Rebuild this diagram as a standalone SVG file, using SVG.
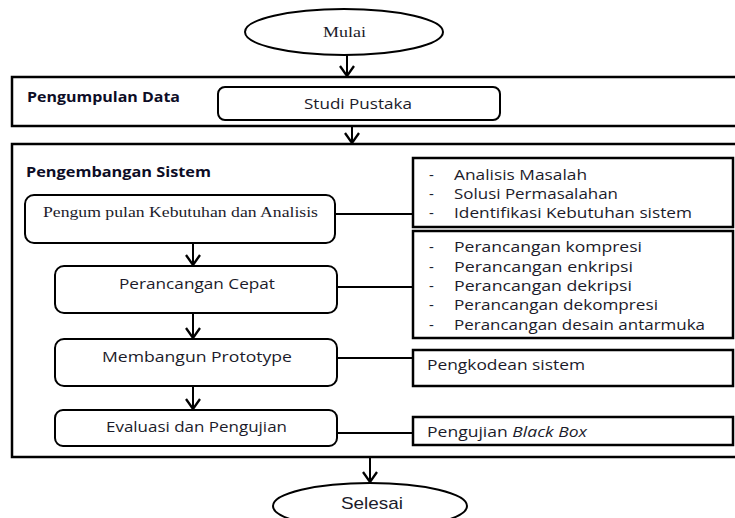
<svg xmlns="http://www.w3.org/2000/svg" width="735" height="518" viewBox="0 0 735 518">
<style>
.frame{fill:none;stroke:#000;stroke-width:2.5}
.box{fill:#fff;stroke:#000;stroke-width:2}
.rbox{fill:#fff;stroke:#000;stroke-width:2.5}
.conn{fill:none;stroke:#000;stroke-width:2}
.head{fill:none;stroke:#000;stroke-width:2.3}
.t{font-family:"Open Sans","Liberation Sans",sans-serif;font-size:15px;fill:#1b1b2a}
.b{font-family:"Open Sans","Liberation Sans",sans-serif;font-size:14px;font-weight:bold;fill:#0d0d26}
.s{font-family:"Liberation Serif",serif;font-size:15px;fill:#1b1b2a}
.a{font-family:"Liberation Sans",sans-serif;font-size:17px;fill:#1b1b2a}
</style>

<g id="mulai">
<ellipse cx="344" cy="32" rx="99" ry="23" class="box"/>
<text x="344.5" y="37" class="s" text-anchor="middle" textLength="43" lengthAdjust="spacingAndGlyphs">Mulai</text>
</g>

<g id="pengumpulan-data">
<rect x="12" y="77" width="740" height="49" class="frame"/>
<text x="27" y="102" class="b" textLength="153" lengthAdjust="spacingAndGlyphs">Pengumpulan Data</text>
</g>

<g id="studi-pustaka">
<rect x="218" y="87" width="282" height="33" rx="7" class="box"/>
<text x="304" y="109" class="t" textLength="108" lengthAdjust="spacingAndGlyphs">Studi Pustaka</text>
</g>

<g id="pengembangan-sistem">
<rect x="12" y="144" width="740" height="313" class="frame"/>
<text x="26" y="177" class="b" textLength="185" lengthAdjust="spacingAndGlyphs">Pengembangan Sistem</text>
</g>

<g id="kebutuhan">
<rect x="25" y="195" width="310" height="48" rx="9" class="box"/>
<text x="43" y="217" class="s" textLength="275" lengthAdjust="spacingAndGlyphs">Pengum pulan Kebutuhan dan Analisis</text>
</g>

<g id="perancangan-cepat">
<rect x="55" y="266" width="282" height="47" rx="9" class="box"/>
<text x="119" y="289" class="t" textLength="156" lengthAdjust="spacingAndGlyphs">Perancangan Cepat</text>
</g>

<g id="prototype">
<rect x="55" y="339" width="282" height="47" rx="9" class="box"/>
<text x="102" y="362" class="t" textLength="190" lengthAdjust="spacingAndGlyphs">Membangun Prototype</text>
</g>

<g id="evaluasi">
<rect x="55" y="410" width="282" height="36" rx="8" class="box"/>
<text x="106" y="432" class="t" textLength="181" lengthAdjust="spacingAndGlyphs">Evaluasi dan Pengujian</text>
</g>

<g id="analisis-list">
<rect x="413" y="158" width="320" height="69" class="rbox"/>
<g class="t">
<text x="429" y="180">-</text><text x="454" y="180" textLength="133" lengthAdjust="spacingAndGlyphs">Analisis Masalah</text>
<text x="429" y="199">-</text><text x="454" y="199" textLength="164" lengthAdjust="spacingAndGlyphs">Solusi Permasalahan</text>
<text x="429" y="218">-</text><text x="454" y="218" textLength="238" lengthAdjust="spacingAndGlyphs">Identifikasi Kebutuhan sistem</text>
</g>
</g>

<g id="perancangan-list">
<rect x="413" y="231" width="320" height="107" class="rbox"/>
<g class="t">
<text x="429" y="252">-</text><text x="454" y="252" textLength="188" lengthAdjust="spacingAndGlyphs">Perancangan kompresi</text>
<text x="429" y="272">-</text><text x="454" y="272" textLength="179" lengthAdjust="spacingAndGlyphs">Perancangan enkripsi</text>
<text x="429" y="291">-</text><text x="454" y="291" textLength="178" lengthAdjust="spacingAndGlyphs">Perancangan dekripsi</text>
<text x="429" y="310">-</text><text x="454" y="310" textLength="204" lengthAdjust="spacingAndGlyphs">Perancangan dekompresi</text>
<text x="429" y="330">-</text><text x="454" y="330" textLength="251" lengthAdjust="spacingAndGlyphs">Perancangan desain antarmuka</text>
</g>
</g>

<g id="pengkodean">
<rect x="413" y="350" width="320" height="36" class="rbox"/>
<text x="427" y="370" class="t" textLength="158" lengthAdjust="spacingAndGlyphs">Pengkodean sistem</text>
</g>

<g id="blackbox">
<rect x="413" y="417" width="320" height="28" class="rbox"/>
<text x="427" y="437" class="t" textLength="160" lengthAdjust="spacingAndGlyphs">Pengujian <tspan font-style="italic">Black Box</tspan></text>
</g>

<g id="selesai">
<ellipse cx="370" cy="506" rx="97" ry="23" class="box"/>
<text x="341" y="509" class="a" textLength="62" lengthAdjust="spacingAndGlyphs">Selesai</text>
</g>

<g id="connectors">
<line x1="347" y1="55" x2="347" y2="76" class="conn"/>
<path d="M340,66 L347,76 L354,66" class="head"/>
<line x1="352" y1="126" x2="352" y2="143" class="conn"/>
<path d="M345,133 L352,143 L359,133" class="head"/>
<line x1="193" y1="243" x2="193" y2="265" class="conn"/>
<path d="M186,255 L193,265 L200,255" class="head"/>
<line x1="193" y1="313" x2="193" y2="338" class="conn"/>
<path d="M186,328 L193,338 L200,328" class="head"/>
<line x1="193" y1="386" x2="193" y2="409" class="conn"/>
<path d="M186,399 L193,409 L200,399" class="head"/>
<line x1="370" y1="457" x2="370" y2="482" class="conn"/>
<path d="M363,472 L370,482 L377,472" class="head"/>
<line x1="335" y1="214" x2="413" y2="214" class="conn"/>
<line x1="337" y1="287" x2="413" y2="287" class="conn"/>
<line x1="337" y1="358" x2="413" y2="358" class="conn"/>
<line x1="337" y1="433" x2="413" y2="433" class="conn"/>
</g>
</svg>
